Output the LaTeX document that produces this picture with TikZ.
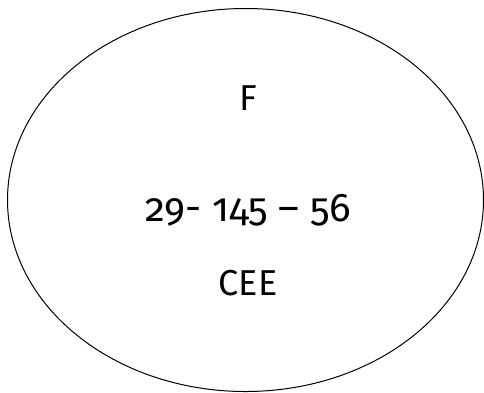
\documentclass[tikz,border=0pt]{standalone}
\usepackage{fontspec}
\setmainfont[Numbers=OldStyle]{Fira Sans}
\usetikzlibrary{shapes.geometric}
\tikzset{
  oval/.style={ellipse, draw=black, line width=1pt, inner sep=0pt,
    minimum width=476pt, minimum height=383pt},
  label/.style={anchor=base, inner sep=0pt, font=\fontsize{36}{42}\selectfont},
}
\begin{document}
\begin{tikzpicture}[x=1pt, y=-1pt]
  \useasboundingbox (0,0) rectangle (484,392);
  \node[oval] (set) at (245.5,200) {};
  \node[label] (name) at (248,110) {F};
  \node[label, font=\fontsize{40}{46}\selectfont] (code) at (248,221) {29- 145 – 56};
  \node[label] (dept) at (248,295) {CEE};
\end{tikzpicture}
\end{document}
